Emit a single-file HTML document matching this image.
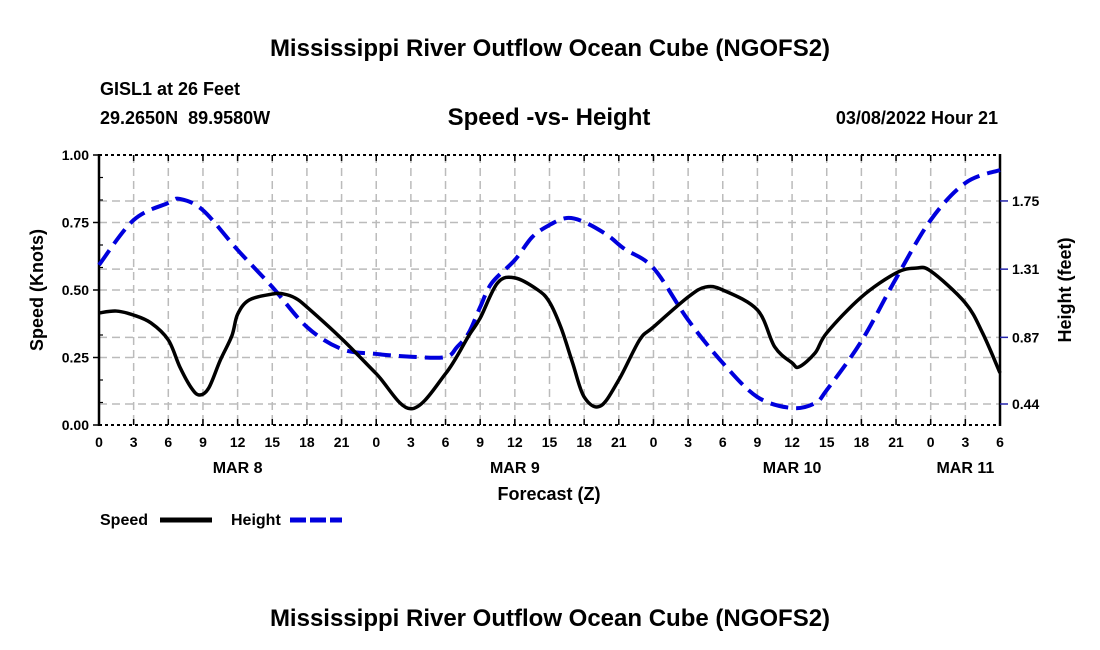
<!DOCTYPE html>
<html><head><meta charset="utf-8">
<style>
body{margin:0;background:#fff;}
svg{display:block;font-family:"Liberation Sans",Arial,sans-serif;font-weight:bold;}
</style></head>
<body>
<svg id="chart" width="1100" height="650" viewBox="0 0 1100 650">
<text x="550" y="56" text-anchor="middle" font-size="24">Mississippi River Outflow Ocean Cube (NGOFS2)</text>
<text x="100" y="95" font-size="18">GISL1 at 26 Feet</text>
<text x="100" y="124" font-size="18">29.2650N&#160;&#160;89.9580W</text>
<text x="549" y="125" text-anchor="middle" font-size="24">Speed -vs- Height</text>
<text x="998" y="124" text-anchor="end" font-size="18">03/08/2022 Hour 21</text>
<g id="grid"></g>
<g id="axes"></g>
<g id="series"></g>
<text x="549" y="500" text-anchor="middle" font-size="18">Forecast (Z)</text>
<text transform="translate(43,290) rotate(-90)" text-anchor="middle" font-size="18">Speed (Knots)</text>
<text transform="translate(1071,290) rotate(-90)" text-anchor="middle" font-size="18">Height (feet)</text>
<g>
<text x="100" y="525" font-size="16">Speed</text>
<line x1="160" y1="520" x2="212" y2="520" stroke="#000" stroke-width="5"/>
<text x="231" y="525" font-size="16">Height</text>
<line x1="290" y1="520" x2="342" y2="520" stroke="#0000dd" stroke-width="5" stroke-dasharray="16,4"/>
</g>
<text x="550" y="626" text-anchor="middle" font-size="24">Mississippi River Outflow Ocean Cube (NGOFS2)</text>
</svg>
<script>
const speedHours=[0,1.5,3,4.5,6,7,8,8.7,9.5,10.5,11.5,12,13,15,16,17,18,21,24,27,30,32,33,34.5,36,38,39,40,41,42,43.4,45,46.8,48,51,52.5,54,57,58.5,60,60.6,62,63,66,69,70.7,72,75,76.5,78];
const speedValues=[0.415,0.422,0.407,0.378,0.315,0.215,0.137,0.111,0.137,0.24,0.33,0.41,0.463,0.485,0.485,0.47,0.437,0.32,0.19,0.06,0.19,0.33,0.396,0.526,0.545,0.5,0.455,0.36,0.23,0.104,0.07,0.167,0.315,0.363,0.474,0.511,0.5,0.426,0.289,0.23,0.215,0.267,0.341,0.474,0.563,0.581,0.57,0.452,0.34,0.193];
const heightHours=[0,3,6,7,9,12,15,18,21,24,27,30,31,32,33,34,36,37.5,39,40.5,42,44,45.5,48,51,54,57,60,62,63,66,69,72,75,78];
const heightValues=[1.337,1.627,1.737,1.763,1.69,1.434,1.195,0.937,0.795,0.763,0.745,0.743,0.808,0.898,1.066,1.22,1.369,1.517,1.595,1.64,1.614,1.53,1.44,1.317,0.982,0.705,0.485,0.414,0.446,0.53,0.845,1.25,1.627,1.866,1.95];
const xTickLabels=["0","3","6","9","12","15","18","21","0","3","6","9","12","15","18","21","0","3","6","9","12","15","18","21","0","3","6"];
const dayLabels=["MAR 8","MAR 9","MAR 10","MAR 11"];
const dayHours=[12,36,60,75];
const speedTicks=[0,0.25,0.5,0.75,1];
const speedTickLabels=["0.00","0.25","0.50","0.75","1.00"];
const heightTicks=[0.44,0.87,1.31,1.75];

const L=99,R=1000,T=155,B=425;
const xS=h=>L+(R-L)*h/78;
const yS=v=>B-(B-T)*v;
const yH=f=>404-(f-0.44)*155;
const NS="http://www.w3.org/2000/svg";
function mk(tag,attrs,parent){const e=document.createElementNS(NS,tag);for(const k in attrs)e.setAttribute(k,attrs[k]);parent.appendChild(e);return e;}
const grid=document.getElementById('grid'),axes=document.getElementById('axes'),series=document.getElementById('series');

for(let i=1;i<26;i++){const x=xS(i*3);
 const g=mk('line',{x1:x,y1:T,x2:x,y2:B,stroke:'#bbb','stroke-width':1.5,'stroke-dasharray':'8,5'},grid);
 
 }
speedTicks.slice(1,4).forEach(v=>{const g=mk('line',{x1:L,y1:yS(v),x2:R,y2:yS(v),stroke:'#bbb','stroke-width':1.5,'stroke-dasharray':'8,5'},grid);
 
 });
heightTicks.forEach(v=>{const g=mk('line',{x1:L,y1:yH(v),x2:R,y2:yH(v),stroke:'#bbb','stroke-width':1.5,'stroke-dasharray':'8,5'},grid);
 
 });

let e=mk('line',{x1:L,y1:T,x2:R,y2:T,stroke:'#000','stroke-width':2,'stroke-dasharray':'3,3'},axes);


e=mk('line',{x1:L,y1:B,x2:R,y2:B,stroke:'#000','stroke-width':2,'stroke-dasharray':'3,3'},axes);


e=mk('line',{x1:L,y1:T-1,x2:L,y2:B+1,stroke:'#000','stroke-width':2.5},axes);


e=mk('line',{x1:R,y1:T-1,x2:R,y2:B+1,stroke:'#000','stroke-width':2.5},axes);



xTickLabels.forEach((lab,i)=>{const x=xS(i*3);
 mk('line',{x1:x,y1:B,x2:x,y2:B-6,stroke:'#000','stroke-width':1.5},axes);
 mk('line',{x1:x,y1:T,x2:x,y2:T+6,stroke:'#000','stroke-width':1.5},axes);
 const t=mk('text',{x:x,y:B+22,'text-anchor':'middle','font-size':14},axes);t.textContent=lab;
 
 });
dayLabels.forEach((lab,i)=>{const t=mk('text',{x:xS(dayHours[i]),y:B+48,'text-anchor':'middle','font-size':16},axes);t.textContent=lab;
 
 });
speedTicks.forEach((v,i)=>{const y=yS(v);
 mk('line',{x1:L,y1:y,x2:L-6,y2:y,stroke:'#000','stroke-width':1.5},axes);
 const t=mk('text',{x:L-10,y:y+5,'text-anchor':'end','font-size':14},axes);t.textContent=speedTickLabels[i];
 
 });
for(let k=1;k<12;k++){if(k%3===0)continue;const y=yS(k/12);mk('line',{x1:L,y1:y,x2:L+4,y2:y,stroke:'#000','stroke-width':1.2},axes);}
heightTicks.forEach(v=>{const y=yH(v);
 mk('line',{x1:R,y1:y,x2:R+8,y2:y,stroke:'#2222aa','stroke-width':1.5},axes);
 const t=mk('text',{x:R+12,y:y+5,'font-size':14},axes);t.textContent=v.toFixed(2);
 
 });

function path(xs,ys){const p=xs.map((h,i)=>[xS(h),ys[i]]);let d=`M${p[0][0]},${p[0][1]}`;
 for(let i=0;i<p.length-1;i++){const p0=p[Math.max(0,i-1)],p1=p[i],p2=p[i+1],p3=p[Math.min(p.length-1,i+2)];
  const c1=[p1[0]+(p2[0]-p0[0])/6,p1[1]+(p2[1]-p0[1])/6],c2=[p2[0]-(p3[0]-p1[0])/6,p2[1]-(p3[1]-p1[1])/6];
  d+=` C${c1[0]},${c1[1]} ${c2[0]},${c2[1]} ${p2[0]},${p2[1]}`;}
 return d;}
const hp=mk('path',{d:path(heightHours,heightValues.map(yH)),fill:'none',stroke:'#0000dd','stroke-width':4,'stroke-dasharray':'18,8'},series);


const sp=mk('path',{d:path(speedHours,speedValues.map(yS)),fill:'none',stroke:'#000','stroke-width':3.5},series);


</script>
</body></html>
